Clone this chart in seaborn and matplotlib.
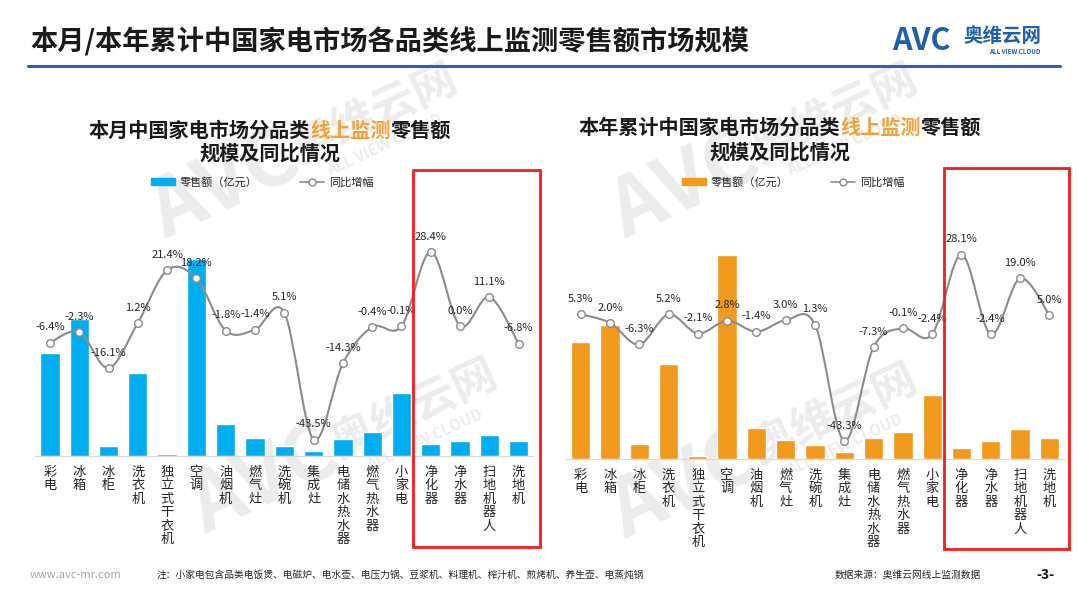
import numpy as np
import pandas as pd
import matplotlib.pyplot as plt
import seaborn as sns
from matplotlib.path import Path
from matplotlib.patches import PathPatch, Rectangle, Patch
from matplotlib.lines import Line2D

sns.set_style("white")
plt.rcParams['font.family'] = ['Noto Sans CJK SC', 'DejaVu Sans']

# data (bar heights, relative units)
cats = ['彩电', '冰箱', '冰柜', '洗衣机', '独立式干衣机', '空调', '油烟机', '燃气灶', '洗碗机',
        '集成灶', '电储水热水器', '燃气热水器', '小家电', '净化器', '净水器', '扫地机器人', '洗地机']
month_sales = [103, 137, 10, 83, 2, 197, 32, 18, 10, 5, 17, 24, 63, 12, 15, 21, 15]
month_yoy = [-6.4, -2.3, -16.1, 1.2, 21.4, 18.2, -1.8, -1.4, 5.1, -43.5, -14.3, -0.4, -0.1, 28.4, 0.0, 11.1, -6.8]
ytd_sales = [117, 134, 15, 95, 2.7, 204, 31, 19, 14, 7, 21, 27, 64, 11, 18, 30, 21]
ytd_yoy = [5.3, 2.0, -6.3, 5.2, -2.1, 2.8, -1.4, 3.0, 1.3, -43.3, -7.3, -0.1, -2.4, 28.1, -2.4, 19.0, 5.0]

W, H = 1078, 607
fig = plt.figure(figsize=(W / 100, H / 100), dpi=100)
fig.patch.set_facecolor('white')


def fx(px):
    return px / W


def fy(py):
    return 1 - py / H


# watermarks
for cx, cy in [(300, 150), (340, 445), (760, 150), (760, 450)]:
    fig.text(fx(cx - 75), fy(cy + 35), 'AVC', fontsize=58, fontweight='bold', style='italic',
             color='#ececec', rotation=25, ha='center', va='center', zorder=-2)
    fig.text(fx(cx + 75), fy(cy - 35), '奥维云网', fontsize=32, fontweight='bold',
             color='#ececec', rotation=25, ha='center', va='center', zorder=-2)
    fig.text(fx(cx + 85), fy(cy - 5), 'ALL VIEW CLOUD', fontsize=11, fontweight='bold',
             color='#ececec', rotation=25, ha='center', va='center', zorder=-2)


def smooth_path(xs, ys):
    # Catmull-Rom style bezier through the points (like Excel smoothed line)
    pts = np.column_stack([xs, ys]).astype(float)
    p = np.vstack([pts[0], pts, pts[-1]])
    verts = [pts[0]]
    codes = [Path.MOVETO]
    for i in range(1, len(p) - 2):
        c1 = p[i] + (p[i + 1] - p[i - 1]) / 6
        c2 = p[i + 1] - (p[i + 2] - p[i]) / 6
        verts += [c1, c2, p[i + 1]]
        codes += [Path.CURVE4] * 3
    return Path(verts, codes)


def rich_line(xc, y, parts, **kw):
    r = fig.canvas.get_renderer()
    ts = [fig.text(0, fy(y), s, color=c, va='center', ha='left', **kw) for s, c in parts]
    ws = [t.get_window_extent(r).width for t in ts]
    x = xc - sum(ws) / 2
    for t, w in zip(ts, ws):
        t.set_x(fx(x))
        x += w


def draw_panel(rect, sales, yoy, bar_ylim, yoy_ylim, color, sub1, sub_x, sub_y, leg_x):
    ax = fig.add_axes(rect)
    ax.set_facecolor('none')
    df = pd.DataFrame({'cat': cats, 'sales': sales})
    sns.barplot(data=df, x='cat', y='sales', ax=ax, color=color, saturation=1, width=0.66)
    ax.set_ylim(*bar_ylim)
    ax.set_xlim(-0.5, len(cats) - 0.5)
    ax.set_xticks(range(len(cats)))
    ax.set_xticklabels(['\n'.join(c) for c in cats], fontsize=9.5, linespacing=1.05, va='top',
                       color='#262626')
    ax.tick_params(axis='x', length=0, pad=7)
    ax.set_yticks([])
    ax.set_xlabel('')
    ax.set_ylabel('')
    for s in ['top', 'left', 'right']:
        ax.spines[s].set_visible(False)
    ax.spines['bottom'].set_color('#d9d9d9')

    ax2 = ax.twinx()
    ax2.set_ylim(*yoy_ylim)
    ax2.set_yticks([])
    for s in ax2.spines.values():
        s.set_visible(False)
    idx = np.arange(len(cats))
    ax2.add_patch(PathPatch(smooth_path(idx, yoy), fill=False, edgecolor='#8c8c8c', lw=1.5, zorder=3))
    sns.scatterplot(x=idx, y=yoy, ax=ax2, color='white', edgecolor='#8c8c8c', s=30,
                    linewidth=1.0, zorder=4)
    for i, v in enumerate(yoy):
        ax2.annotate(f'{v:.1f}%', (i, v), xytext=(0, 11), textcoords='offset points',
                     ha='center', va='center', fontsize=8, color='#262626', zorder=5)
    ax2.set_xlim(-0.5, len(cats) - 0.5)

    # subtitle
    rich_line(sub_x, sub_y[0], [(sub1, '#1a1a1a'), ('线上监测', '#f4a13a'), ('零售额', '#1a1a1a')],
              fontsize=14.5, fontweight='bold')
    fig.text(fx(sub_x), fy(sub_y[1]), '规模及同比情况', fontsize=14.5, fontweight='bold',
             ha='center', va='center', color='#1a1a1a')

    handles = [Patch(color=color),
               Line2D([], [], color='#8c8c8c', lw=1.2, marker='o', markersize=5,
                      markerfacecolor='white', markeredgecolor='#8c8c8c')]
    ax.legend(handles, ['零售额（亿元）', '同比增幅'], loc='center', ncol=2, frameon=False,
              bbox_to_anchor=(fx(leg_x), fy(182)), bbox_transform=fig.transFigure,
              fontsize=8, handlelength=2.2, handleheight=0.6, columnspacing=3.8, handletextpad=0.4)
    return ax


# left panel: baseline at y=456, top at y=190
draw_panel([fx(35.3), fy(456), fx(498), (456 - 190) / H], month_sales, month_yoy,
           (0, 266), (-49.8, 52.1), '#00aeef', '本月中国家电市场分品类', 270, (130, 153), 262)
# right panel: baseline at y=459
draw_panel([fx(566), fy(459), fx(498), (459 - 190) / H], ytd_sales, ytd_yoy,
           (0, 269), (-50.2, 52.9), '#f29a1e', '本年累计中国家电市场分品类', 780, (127, 152), 793)

# red highlight boxes
for x0, y0, x1, y1 in [(413, 170, 540, 547), (944, 168, 1069, 549)]:
    fig.add_artist(Rectangle((fx(x0), fy(y1)), fx(x1 - x0), (y1 - y0) / H, transform=fig.transFigure,
                             fill=False, edgecolor='#ff1a1a', lw=2, zorder=6))

# header
fig.text(fx(30), fy(42), '本月/本年累计中国家电市场各品类线上监测零售额市场规模', fontsize=19.6,
         fontweight='bold', ha='left', va='center', color='#1a1a1a')
fig.add_artist(Line2D([fx(28), fx(1060)], [fy(66), fy(66)], transform=fig.transFigure,
                      color='#2d62ae', lw=2.2))
fig.text(fx(892), fy(41), 'AVC', fontsize=22, fontweight='heavy', style='italic',
         color='#1f5fb0', ha='left', va='center')
fig.text(fx(963), fy(36), '奥维云网', fontsize=14, fontweight='bold',
         color='#1f5fb0', ha='left', va='center')
fig.text(fx(1015), fy(51), 'ALL VIEW CLOUD', fontsize=4.5, fontweight='bold',
         color='#1f5fb0', ha='center', va='center')

# footer
fig.text(fx(30), fy(575), 'www.avc-mr.com', fontsize=8, color='#a6a6a6', ha='left', va='center')
fig.text(fx(157), fy(575), '注：小家电包含品类电饭煲、电磁炉、电水壶、电压力锅、豆浆机、料理机、榨汁机、煎烤机、养生壶、电蒸炖锅',
         fontsize=7, color='#262626', ha='left', va='center')
fig.text(fx(835), fy(575), '数据来源：奥维云网线上监测数据', fontsize=7, color='#262626',
         ha='left', va='center')
fig.text(fx(1045), fy(575), '-3-', fontsize=10, fontweight='bold', color='#1a1a1a',
         ha='center', va='center')

plt.savefig('out.png', dpi=100)
